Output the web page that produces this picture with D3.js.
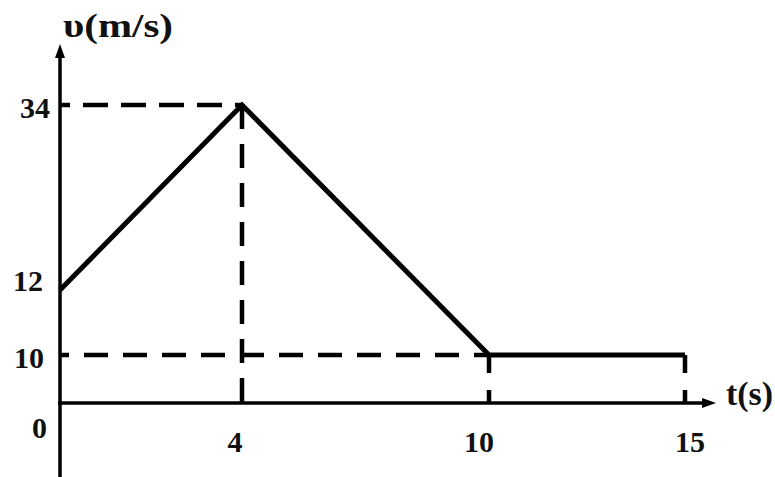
<!DOCTYPE html>
<html><head><meta charset="utf-8">
<script src="https://cdn.jsdelivr.net/npm/d3@7"></script>
<style>body{margin:0;background:#fff}svg{display:block}text{font-family:"Liberation Serif","Times New Roman",serif;font-weight:bold;fill:#111}</style>
</head><body>
<script>
// Data
const times = [0, 4, 10, 15];          // t (s)
const velocities = [12, 34, 10, 10];   // v (m/s)
const xTicks = [4, 10, 15];
const yTicks = [0, 10, 12, 34];
const yLabel = "υ(m/s)";
const xLabel = "t(s)";

const W = 775, H = 477;
const svg = d3.select("body").append("svg").attr("width", W).attr("height", H);

// piecewise scales (drawing is not to scale in the original)
const x = d3.scaleLinear().domain([0, 4, 10, 15]).range([60, 242, 489, 685]);
const y = d3.scaleLinear().domain([0, 10, 12, 34]).range([403, 355, 290, 105]);

// guide dashed lines
const guides = [
  {x1: 0, y1: 34, x2: 4, y2: 34, dash: "25,13", off: 15},
  {x1: 4, y1: 34, x2: 4, y2: 0, dash: "24,15", off: 0},
  {x1: 0, y1: 10, x2: 10, y2: 10, dash: "24,15", off: 15},
  {x1: 10, y1: 10, x2: 10, y2: 0, dash: "18,17", off: 0},
  {x1: 15, y1: 10, x2: 15, y2: 0, dash: "18,17", off: 0}
];
svg.selectAll("line.guide").data(guides).join("line")
  .attr("class", "guide")
  .attr("x1", d => x(d.x1)).attr("y1", d => y(d.y1))
  .attr("x2", d => x(d.x2)).attr("y2", d => y(d.y2))
  .attr("stroke", "#000").attr("stroke-width", 4.5)
  .attr("stroke-dasharray", d => d.dash).attr("stroke-dashoffset", d => d.off);

// axes
const ax = svg.append("g").attr("stroke", "#000").attr("stroke-width", 3.5);
ax.append("line").attr("x1", x(0)).attr("y1", H).attr("x2", x(0)).attr("y2", 52);
ax.append("line").attr("x1", x(0) - 2).attr("y1", y(0)).attr("x2", 708).attr("y2", y(0));
svg.append("path").attr("d", `M${x(0)},44 L${x(0)-5},58 L${x(0)+5},58 Z`).attr("fill", "#000");
svg.append("path").attr("d", `M716,${y(0)} L702,${y(0)-5} L702,${y(0)+5} Z`).attr("fill", "#000");

// velocity line
const pts = times.map((t, i) => [t, velocities[i]]);
svg.append("path").datum(pts)
  .attr("d", d3.line().x(d => x(d[0])).y(d => y(d[1])))
  .attr("fill", "none").attr("stroke", "#000").attr("stroke-width", 5)
  .attr("stroke-linejoin", "miter");

// tick labels
const yOff = {0: 24, 10: 2, 12: -10, 34: 2};
const yRight = {0: 47, 10: 44, 12: 43, 34: 50};
svg.selectAll("text.yt").data(yTicks).join("text").attr("class", "yt")
  .attr("x", d => yRight[d]).attr("y", d => y(d) + yOff[d])
  .attr("dy", "0.35em").attr("text-anchor", "end")
  .attr("font-size", 30).text(d => d);
const xOff = {4: -7, 10: -10, 15: 5};
svg.selectAll("text.xt").data(xTicks).join("text").attr("class", "xt")
  .attr("x", d => x(d) + xOff[d]).attr("y", y(0) + 38)
  .attr("dy", "0.35em").attr("text-anchor", "middle")
  .attr("font-size", 30).text(d => d);

// axis titles
svg.append("text").attr("x", 63).attr("y", 37).attr("font-size", 33)
  .attr("textLength", 110).attr("lengthAdjust", "spacingAndGlyphs").text(yLabel);
svg.append("text").attr("x", 726).attr("y", 405).attr("font-size", 33)
  .attr("textLength", 47).attr("lengthAdjust", "spacingAndGlyphs").text(xLabel);
</script>
</body></html>
